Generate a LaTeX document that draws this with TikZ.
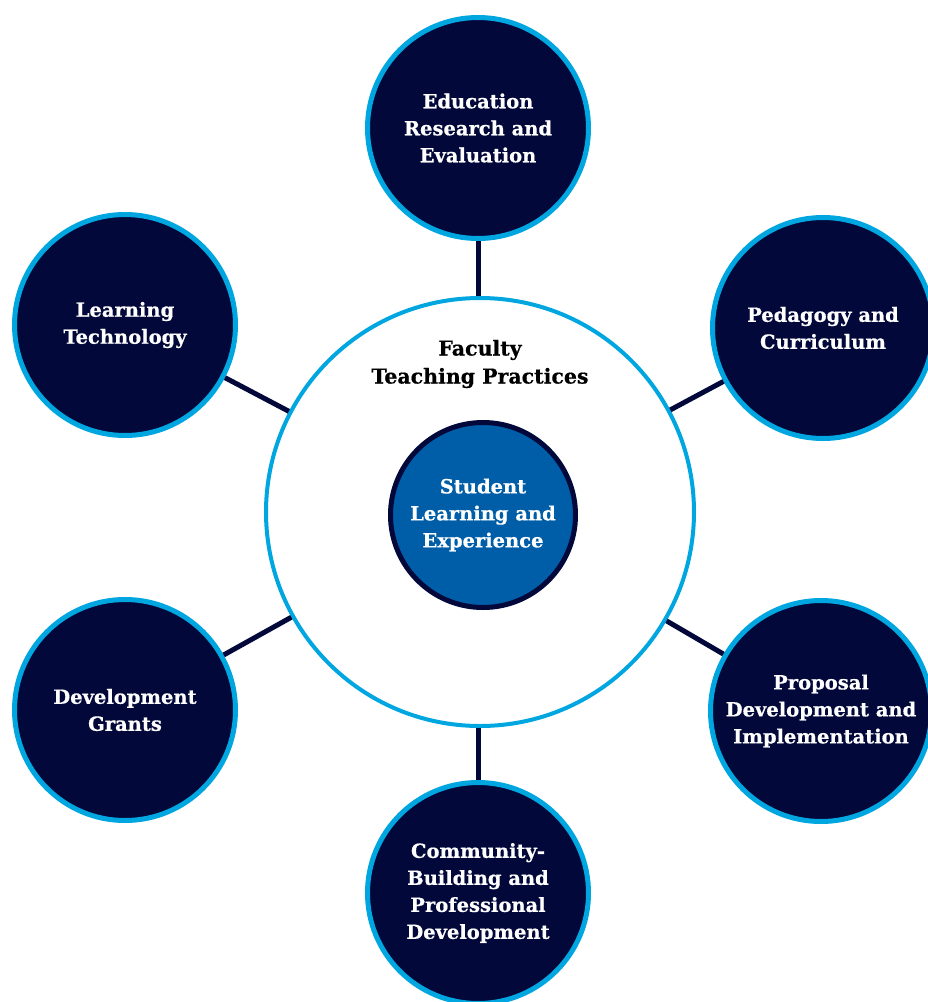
\documentclass[tikz,border=0pt]{standalone}
\usepackage{fontspec}
\setmainfont{DejaVu Serif}[BoldFeatures={FakeBold=0.6}]
\definecolor{navy}{RGB}{2,8,58}
\definecolor{sky}{RGB}{0,166,224}
\definecolor{midblue}{RGB}{0,94,168}
\begin{document}
\begin{tikzpicture}[x=1pt,y=-1pt,
  lbl/.style={font=\fontsize{19.5}{27}\selectfont\bfseries, align=center},
  outer/.style={circle, draw=sky, fill=navy, line width=5pt, minimum size=221pt, inner sep=0pt, text=white, lbl},
  link/.style={draw=navy, line width=5pt}]
\useasboundingbox (0,0) rectangle (928,1002);
\node[circle, draw=sky, fill=white, line width=4pt, minimum size=428pt, inner sep=0pt] (big) at (480,512) {};
\node[outer] (top) at (478,128) {Education\\Research and\\Evaluation};
\node[outer] (ul) at (125,325) {Learning\\Technology};
\node[outer] (ur) at (823,328) {Pedagogy and\\Curriculum};
\node[outer] (ll) at (125,710) {Development\\Grants};
\node[outer] (lr) at (821,711) {Proposal\\Development and\\Implementation};
\node[outer] (bot) at (478,893) {Community-\\Building and\\Professional\\Development};
\node[circle, draw=navy, fill=midblue, line width=5pt, minimum size=185pt, inner sep=0pt, text=white, lbl] (inner) at (483,515) {Student\\Learning and\\Experience};
\node[lbl, font=\fontsize{20.5}{28}\selectfont\bfseries, text=black] (title) at (480,364) {Faculty\\Teaching Practices};
\path[link] (top.south) -- (top.south |- big.north);
\path[link] (big) -- (ul);
\path[link] (big) -- (ur);
\path[link] (big) -- (ll);
\path[link] (big) -- (lr);
\path[link] (bot.north) -- (bot.north |- big.south);
\end{tikzpicture}
\end{document}
